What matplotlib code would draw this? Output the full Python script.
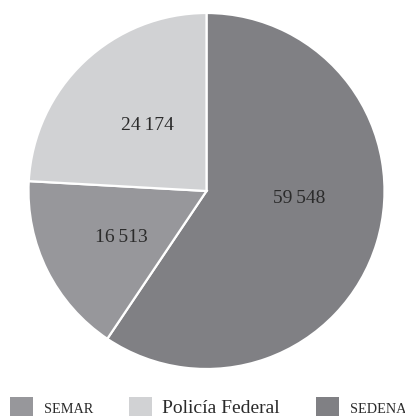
import matplotlib.pyplot as plt

plt.rcParams['font.family'] = ['Liberation Serif', 'DejaVu Serif']

labels = ['SEDENA', 'SEMAR', 'Policía Federal']
values = [59548, 16513, 24174]
colors = ['#808084', '#97979b', '#d1d2d4']
legend_order = [1, 2, 0]

def fmt(v):
    s = '{:,}'.format(v)
    return s.replace(',', '\u2009')

fig = plt.figure(figsize=(4.05, 4.18), dpi=100)
ax = fig.add_axes([28.5 / 405, 49 / 418, 356 / 405, 356 / 418])

wedges, texts = ax.pie(values, colors=colors, startangle=90, counterclock=False,
                       wedgeprops=dict(edgecolor='white', linewidth=1.6))
ax.set_xlim(-1, 1)
ax.set_ylim(-1, 1)

# value labels inside the slices
pos = {0: (0.52, -0.04), 1: (-0.48, -0.26), 2: (-0.33, 0.37)}
for i, v in enumerate(values):
    ax.text(pos[i][0], pos[i][1], fmt(v), ha='center', va='center',
            fontsize=14, color='#2b2b2b')

handles = [wedges[i] for i in legend_order]
names = [labels[i] for i in legend_order]
leg = fig.legend(handles, names, loc='lower left', bbox_to_anchor=(10 / 405, 1 / 418),
                 ncol=3, frameon=False, handlelength=1.18, handleheight=1.18,
                 handletextpad=0.55, columnspacing=1.85, fontsize=14,
                 borderpad=0, borderaxespad=0)
for h in leg.legend_handles:
    h.set_edgecolor('none')
for t in leg.get_texts():
    t.set_color('#2b2b2b')
    if t.get_text() != 'Policía Federal':
        t.set_fontsize(10.3)

plt.savefig('out.png', dpi=100)
